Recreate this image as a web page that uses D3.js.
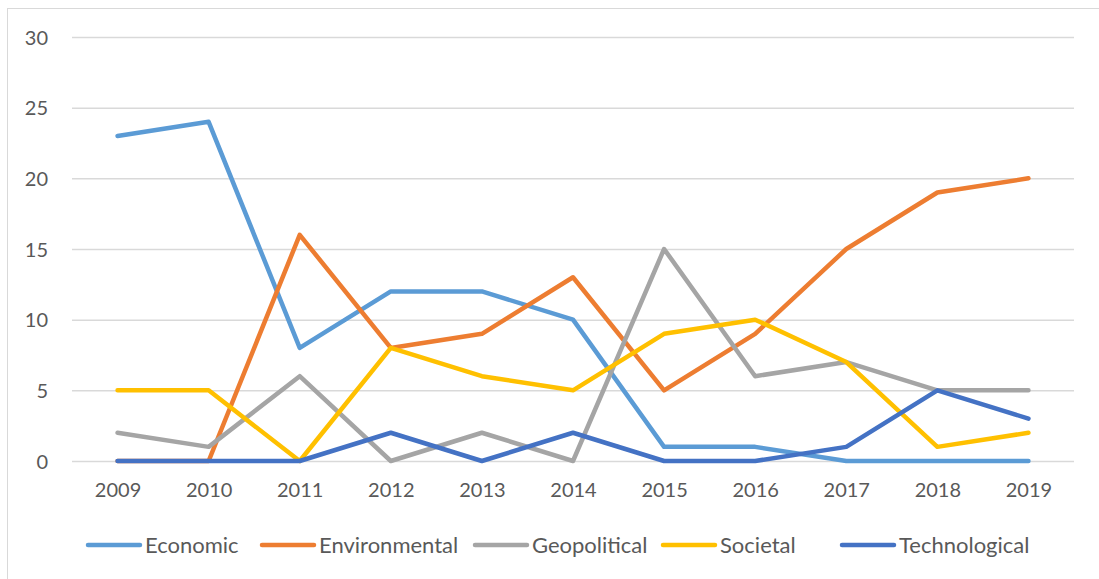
<!DOCTYPE html>
<html>
<head>
<meta charset="utf-8">
<script src="https://cdn.jsdelivr.net/npm/d3@7"></script>
<style>
  html, body { margin: 0; padding: 0; background: #fff; }
  svg { display: block; }
  text { font-family: "Lato", "Open Sans", sans-serif; fill: #595959; }
</style>
</head>
<body>
<svg id="chart" width="1099" height="579"></svg>
<script>
// Years on the horizontal axis
const years = ["2009","2010","2011","2012","2013","2014","2015","2016","2017","2018","2019"];

// Risk counts per year, by category
const economic      = [23, 24, 8, 12, 12, 10, 1, 1, 0, 0, 0];
const environmental = [0, 0, 16, 8, 9, 13, 5, 9, 15, 19, 20];
const geopolitical  = [2, 1, 6, 0, 2, 0, 15, 6, 7, 5, 5];
const societal      = [5, 5, 0, 8, 6, 5, 9, 10, 7, 1, 2];
const technological = [0, 0, 0, 2, 0, 2, 0, 0, 1, 5, 3];

const seriesNames = ["Economic", "Environmental", "Geopolitical", "Societal", "Technological"];
const seriesValues = [economic, environmental, geopolitical, societal, technological];
const seriesColors = ["#5B9BD5", "#ED7D31", "#A5A5A5", "#FFC000", "#4472C4"];

const yTicks = [0, 5, 10, 15, 20, 25, 30];

const svg = d3.select("#chart");
const W = 1099, H = 579;

// outer chart frame
svg.append("rect")
  .attr("x", 7.5).attr("y", 8.5)
  .attr("width", W + 10).attr("height", H + 10)
  .attr("fill", "#fff").attr("stroke", "#D9D9D9").attr("stroke-width", 1);

const plot = { left: 72, right: 1074, top: 37, bottom: 461 };

const x = d3.scalePoint()
  .domain(years)
  .range([plot.left, plot.right])
  .padding(0.5);

const y = d3.scaleLinear()
  .domain([0, 30])
  .range([plot.bottom, plot.top]);

// horizontal gridlines
svg.append("g")
  .selectAll("line")
  .data(yTicks)
  .join("line")
  .attr("x1", plot.left).attr("x2", plot.right)
  .attr("y1", d => y(d) + 0.5).attr("y2", d => y(d) + 0.5)
  .attr("stroke", "#D9D9D9").attr("stroke-width", 1.5);

// y axis labels
const yAxis = d3.axisLeft(y).tickValues(yTicks).tickSize(0).tickPadding(0);
const yg = svg.append("g").attr("transform", `translate(${plot.left - 24},0)`).call(yAxis);
yg.select(".domain").remove();
yg.selectAll("text")
  .attr("font-size", 20).attr("font-family", "Lato, 'Open Sans', sans-serif")
  .attr("fill", "#595959").attr("dy", "0.35em");

// x axis labels
const xAxis = d3.axisBottom(x).tickSize(0).tickPadding(0);
const xg = svg.append("g").attr("transform", `translate(0,${plot.bottom + 22})`).call(xAxis);
xg.select(".domain").remove();
xg.selectAll("text")
  .attr("font-size", 20).attr("font-family", "Lato, 'Open Sans', sans-serif")
  .attr("fill", "#595959").attr("dy", "0.71em");

// series lines
const line = d3.line()
  .x((d, i) => x(years[i]))
  .y(d => y(d));

svg.append("g")
  .selectAll("path")
  .data(seriesValues)
  .join("path")
  .attr("d", d => line(d))
  .attr("fill", "none")
  .attr("stroke", (d, i) => seriesColors[i])
  .attr("stroke-width", 4.5)
  .attr("stroke-linejoin", "round")
  .attr("stroke-linecap", "round");

// legend
const legendX = [88, 262, 475, 663, 842];
const legendY = 545;
const lg = svg.append("g")
  .selectAll("g")
  .data(seriesNames)
  .join("g")
  .attr("transform", (d, i) => `translate(${legendX[i]},${legendY})`);
lg.append("line")
  .attr("x1", 0).attr("x2", 52)
  .attr("y1", 0).attr("y2", 0)
  .attr("stroke", (d, i) => seriesColors[i])
  .attr("stroke-width", 4.5)
  .attr("stroke-linecap", "round");
lg.append("text")
  .attr("x", 57).attr("y", 0).attr("dy", "0.35em")
  .attr("font-size", 22)
  .text(d => d);
</script>
</body>
</html>
